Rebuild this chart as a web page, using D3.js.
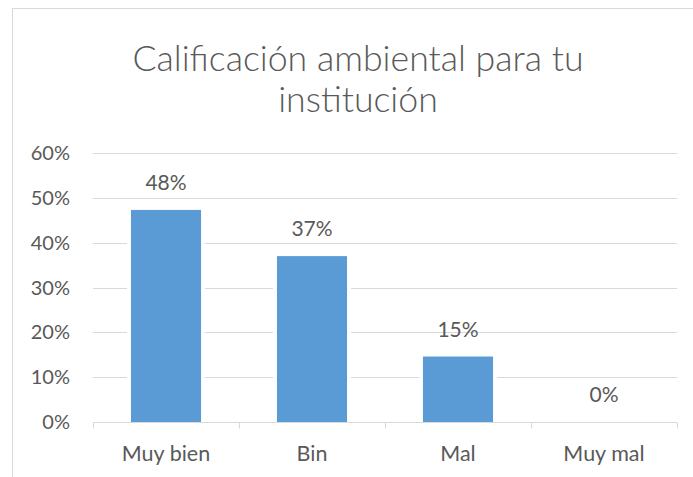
<!DOCTYPE html>
<html><head><meta charset="utf-8">
<script src="https://cdn.jsdelivr.net/npm/d3@7"></script>
<style>
html,body{margin:0;padding:0;background:#fff;}
svg{display:block;}
text{font-family:Lato,"Open Sans",sans-serif;fill:#595959;}
</style></head>
<body>
<script>
const titleLines = ["Calificación ambiental para tu", "institución"];
const categories = ["Muy bien", "Bin", "Mal", "Muy mal"];
const values = [0.473, 0.37, 0.146, 0];
const valueLabels = ["48%", "37%", "15%", "0%"];
const yTicks = [0, 0.1, 0.2, 0.3, 0.4, 0.5, 0.6];

const W = 693, H = 477;
const svg = d3.select("body").append("svg").attr("width", W).attr("height", H);

// chart frame
svg.append("rect").attr("x", 12.5).attr("y", 8.5).attr("width", 700).attr("height", 500)
  .attr("fill", "#fff").attr("stroke", "#d9d9d9").attr("stroke-width", 1);

// title
svg.append("text").attr("x", 358).attr("y", 71).attr("text-anchor", "middle")
  .style("font-size", "35.7px").style("font-weight", 300).text(titleLines[0]);
svg.append("text").attr("x", 358).attr("y", 112).attr("text-anchor", "middle")
  .style("font-size", "35.7px").style("font-weight", 300).text(titleLines[1]);

const x = d3.scaleBand().domain(categories).range([93, 677]).paddingInner(0.52).paddingOuter(0.26);
const y = d3.scaleLinear().domain([0, 0.6]).range([422, 153]);

// gridlines
svg.append("g").selectAll("line").data(yTicks.slice(1)).join("line")
  .attr("x1", 93).attr("x2", 677)
  .attr("y1", d => Math.round(y(d)) + 0.5).attr("y2", d => Math.round(y(d)) + 0.5)
  .attr("stroke", "#d9d9d9").attr("stroke-width", 1);

// y tick labels
svg.append("g").selectAll("text").data(yTicks).join("text")
  .attr("x", 70).attr("y", d => y(d)).attr("dy", "0.35em").attr("text-anchor", "end")
  .style("font-size", "20px").text(d3.format(".0%"));

// bars with white halo (gap in gridlines)
const bw = x.bandwidth();
svg.append("g").selectAll("rect").data(values).join("rect")
  .attr("x", (d, i) => x(categories[i]) - 4).attr("width", bw + 8)
  .attr("y", d => y(d)).attr("height", d => y(0) - y(d))
  .attr("fill", "#fff");
svg.append("g").selectAll("rect").data(values).join("rect")
  .attr("x", (d, i) => x(categories[i])).attr("width", bw)
  .attr("y", d => y(d)).attr("height", d => y(0) - y(d))
  .attr("fill", "#5b9bd5");

// x axis
const ax = svg.append("g").attr("transform", `translate(0,${Math.round(y(0)) + 0.5})`);
ax.append("line").attr("x1", 93).attr("x2", 677).attr("stroke", "#d9d9d9");
const bounds = [93].concat(categories.map(c => x(c) + bw + x.step() * x.paddingInner() / 2));
bounds[bounds.length - 1] = 677;
ax.selectAll("line.tick").data(bounds).join("line").attr("class", "tick")
  .attr("x1", d => Math.round(d) + 0.5).attr("x2", d => Math.round(d) + 0.5)
  .attr("y1", 0).attr("y2", 6).attr("stroke", "#d9d9d9");

// category labels
svg.append("g").selectAll("text").data(categories).join("text")
  .attr("x", d => x(d) + bw / 2).attr("y", 453).attr("dy", "0.35em").attr("text-anchor", "middle")
  .style("font-size", "21.5px").text(d => d);

// value labels
svg.append("g").selectAll("text").data(values).join("text")
  .attr("x", (d, i) => x(categories[i]) + bw / 2).attr("y", d => y(d) - 27).attr("dy", "0.35em")
  .attr("text-anchor", "middle").style("font-size", "21px").text((d, i) => valueLabels[i]);
</script>
</body></html>
